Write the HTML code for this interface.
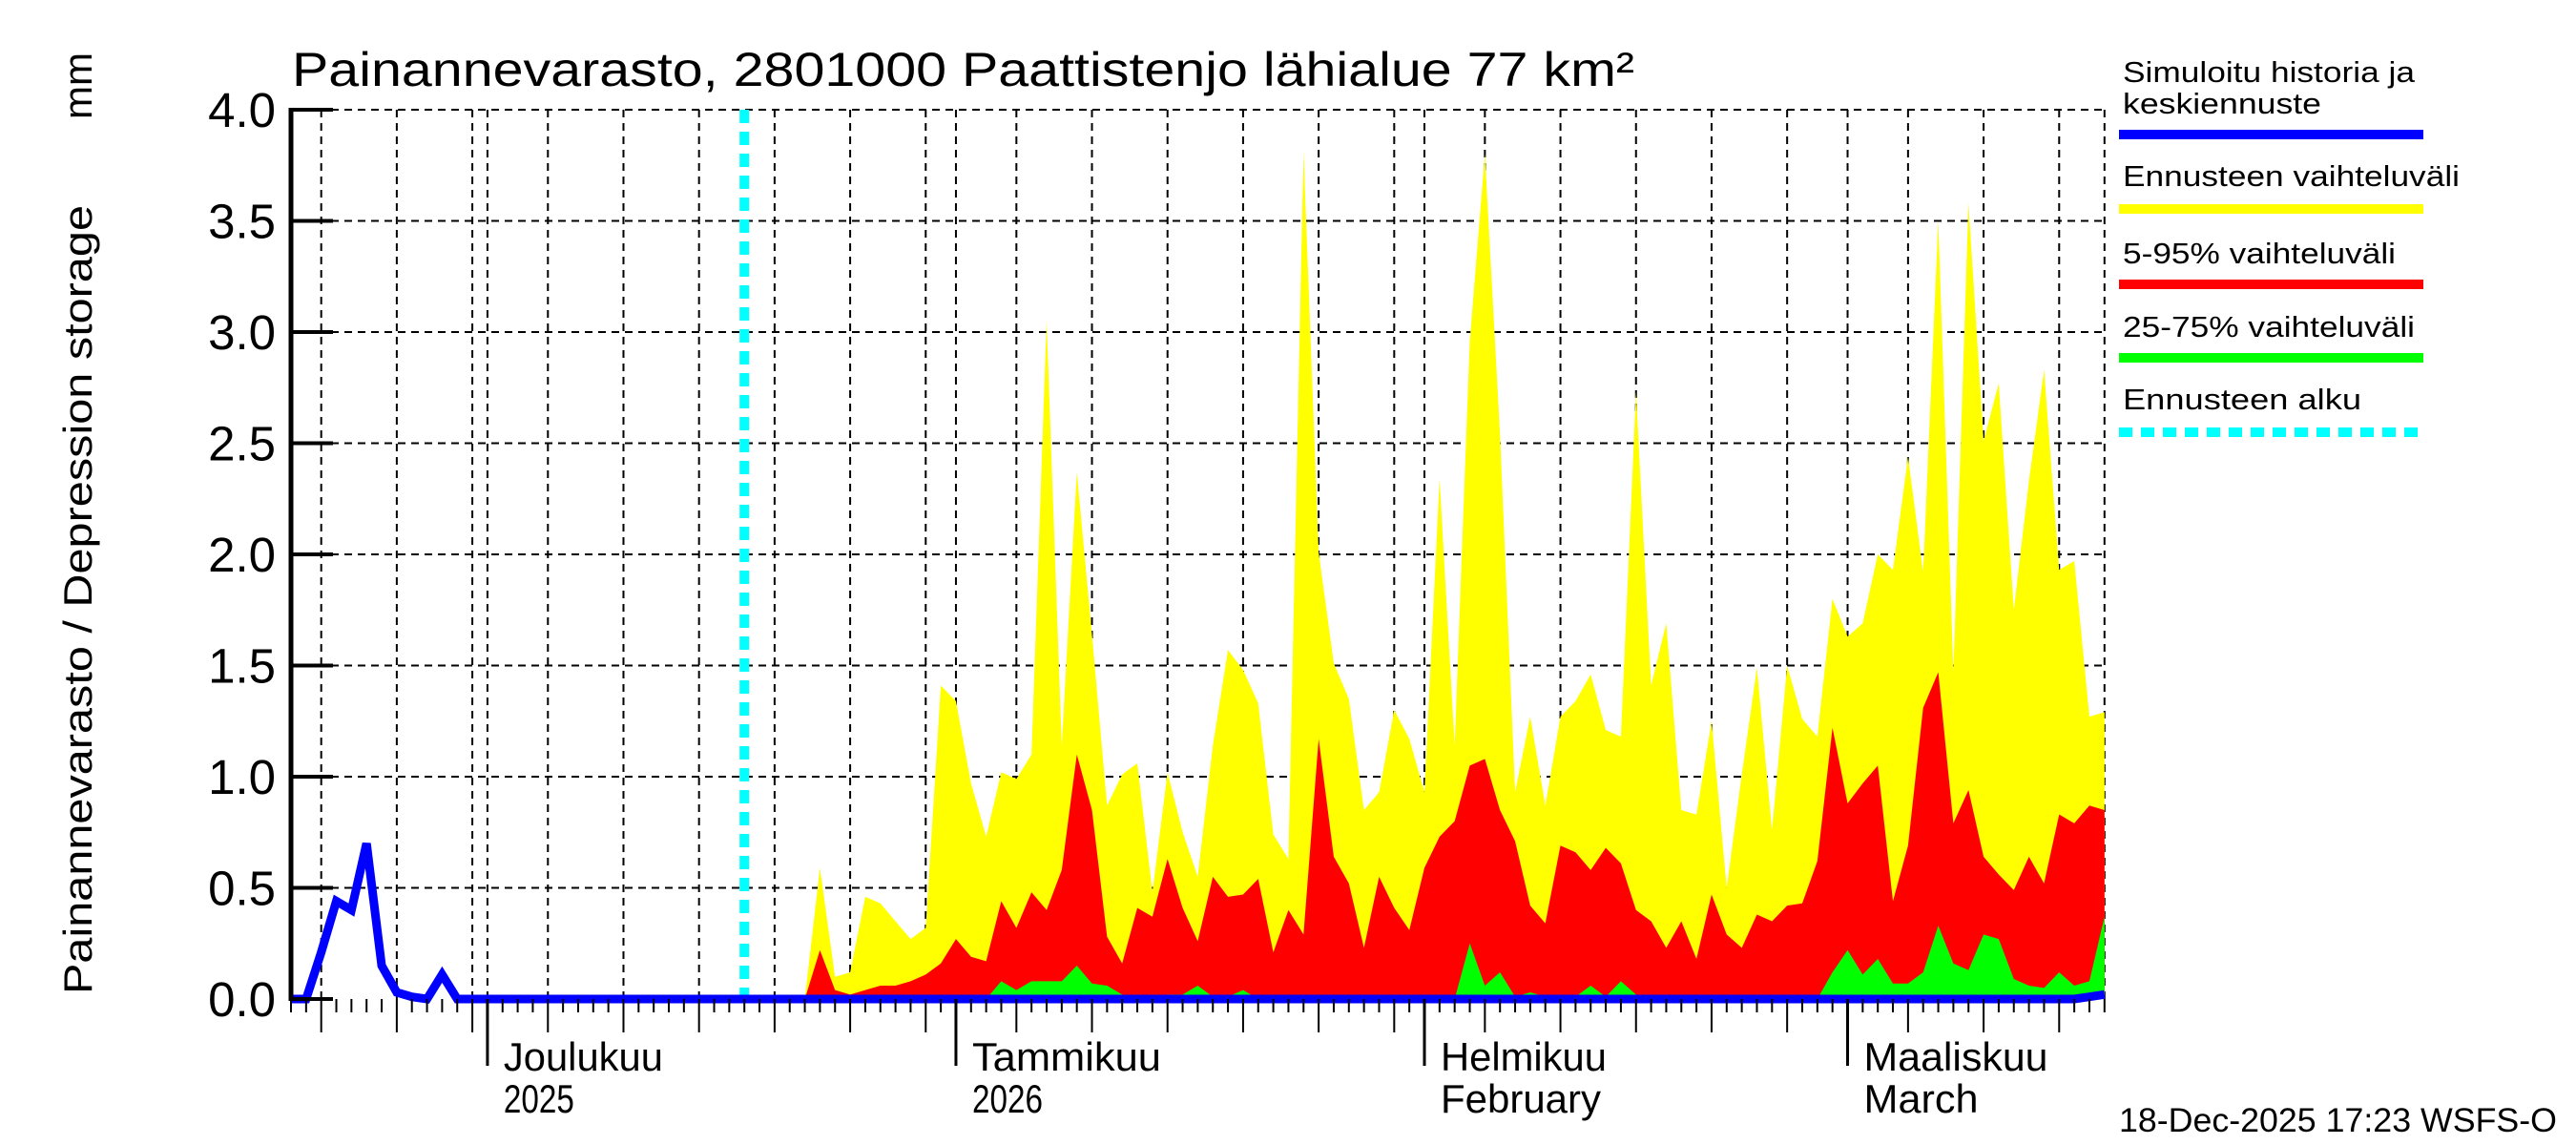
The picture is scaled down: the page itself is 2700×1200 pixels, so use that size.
<!DOCTYPE html>
<html><head><meta charset="utf-8"><title>Painannevarasto</title>
<style>html,body{margin:0;padding:0;background:#fff}svg{display:block}text{font-family:"Liberation Sans",sans-serif;fill:#000}</style>
</head><body>
<svg id="chart" width="2700" height="1200" viewBox="0 0 2700 1200" xmlns="http://www.w3.org/2000/svg">
<rect x="0" y="0" width="2700" height="1200" fill="#fff"/>
<g id="grid"></g>
<g id="bands"></g>
<g id="lines"></g>
<g id="axes"></g>
<text x="306" y="90" font-size="50" textLength="1407" lengthAdjust="spacingAndGlyphs">Painannevarasto, 2801000 Paattistenjo lähialue 77 km²</text>
<text transform="translate(96,1042) rotate(-90)" font-size="42" textLength="827" lengthAdjust="spacingAndGlyphs">Painannevarasto / Depression storage</text>
<text transform="translate(96,125) rotate(-90)" font-size="42">mm</text>
<g id="legend">
<text x="2225" y="86" font-size="31" textLength="306" lengthAdjust="spacingAndGlyphs">Simuloitu historia ja</text>
<text x="2225" y="119" font-size="31" textLength="208" lengthAdjust="spacingAndGlyphs">keskiennuste</text>
<line x1="2221" y1="141" x2="2540" y2="141" stroke="#0000ff" stroke-width="10"/>
<text x="2225" y="195" font-size="31" textLength="353" lengthAdjust="spacingAndGlyphs">Ennusteen vaihteluväli</text>
<line x1="2221" y1="219" x2="2540" y2="219" stroke="#ffff00" stroke-width="10"/>
<text x="2225" y="276" font-size="31" textLength="286" lengthAdjust="spacingAndGlyphs">5-95% vaihteluväli</text>
<line x1="2221" y1="298" x2="2540" y2="298" stroke="#ff0000" stroke-width="10"/>
<text x="2225" y="353" font-size="31" textLength="306" lengthAdjust="spacingAndGlyphs">25-75% vaihteluväli</text>
<line x1="2221" y1="375" x2="2540" y2="375" stroke="#00ff00" stroke-width="10"/>
<text x="2225" y="429" font-size="31" textLength="250" lengthAdjust="spacingAndGlyphs">Ennusteen alku</text>
<line x1="2221" y1="453" x2="2540" y2="453" stroke="#00ffff" stroke-width="10" stroke-dasharray="14,9"/>
</g>
<text x="2221" y="1186" font-size="35" textLength="459" lengthAdjust="spacingAndGlyphs">18-Dec-2025 17:23 WSFS-O</text>
</svg>
<script>
const yTicks = [0.0, 0.5, 1.0, 1.5, 2.0, 2.5, 3.0, 3.5, 4.0];
const yTickLabels = ["0.0","0.5","1.0","1.5","2.0","2.5","3.0","3.5","4.0"];
const months = [
 {day:13, fi:"Joulukuu", en:"2025", w1:167, w2:74},
 {day:44, fi:"Tammikuu", en:"2026", w1:198, w2:74},
 {day:75, fi:"Helmikuu", en:"February", w1:174, w2:168},
 {day:103, fi:"Maaliskuu", en:"March", w1:193, w2:120}
];
const forecastStartDay = 30;
const bandStartDay = 34;
// median / history line (daily, from Nov 18)
const blueSeries = [0,0,0.21,0.44,0.40,0.70,0.15,0.03,0.01,0,0.11,0,0,0,0,0,0,0,0,0,0,0,0,0,0,0,0,0,0,0,0,
 0,0,0,0,0,0,0,0,0,0,0,0,0,0,0,0,0,0,0,0,0,0,0,0,0,0,0,0,0,0,0,0,0,0,0,0,0,0,0,0,0,0,0,0,0,0,0,0,0,0,0,0,0,0,0,0,0,0,0,
 0,0,0,0,0,0,0,0,0,0,0,0,0,0,0,0,0,0,0,0,0,0,0,0,0,0,0,0,0,0.01,0.02];
// bands, days 34..120
const yellowMax = [0,0.59,0.10,0.12,0.46,0.43,0.35,0.27,0.32,1.41,1.34,0.97,0.73,1.02,0.99,1.10,3.05,1.14,2.37,1.64,0.87,1.01,1.06,0.48,1.02,0.75,0.55,1.14,1.57,1.48,
 1.33,0.74,0.63,3.81,2.01,1.51,1.35,0.85,0.93,1.30,1.17,0.93,2.34,1.14,2.96,3.80,2.54,0.93,1.27,0.87,1.27,1.34,1.46,1.21,1.18,2.73,1.41,1.69,0.85,
 0.83,1.25,0.50,1.01,1.49,0.76,1.50,1.26,1.18,1.80,1.63,1.69,2.00,1.93,2.44,1.92,3.50,1.47,3.58,2.51,2.77,1.75,2.33,2.83,1.93,1.97,1.27,1.29];
const red95 = [0,0.22,0.04,0.02,0.04,0.06,0.06,0.08,0.11,0.16,0.27,0.19,0.17,0.44,0.32,0.48,0.40,0.58,1.10,0.85,0.28,0.16,0.41,0.37,0.63,0.41,0.26,0.55,0.46,0.47,
 0.54,0.21,0.40,0.29,1.17,0.64,0.52,0.23,0.55,0.41,0.31,0.59,0.73,0.80,1.05,1.08,0.85,0.71,0.42,0.34,0.69,0.66,0.58,0.68,0.61,0.40,0.35,0.23,0.35,
 0.18,0.47,0.29,0.23,0.38,0.35,0.42,0.43,0.62,1.22,0.88,0.97,1.05,0.44,0.69,1.31,1.47,0.79,0.94,0.64,0.56,0.49,0.64,0.52,0.83,0.79,0.87,0.85];
const green75 = [0,0,0,0,0,0,0,0,0,0,0,0,0,0.08,0.04,0.08,0.08,0.08,0.15,0.07,0.06,0.02,0.01,0.01,0.02,0.02,0.06,0.01,0.01,0.04,
 0,0,0,0,0,0,0,0,0,0,0,0,0,0,0.25,0.06,0.12,0.01,0.03,0.01,0,0.01,0.06,0.01,0.08,0.02,0,0,0,
 0,0,0,0,0,0,0,0,0,0.12,0.22,0.11,0.18,0.07,0.07,0.12,0.33,0.16,0.13,0.29,0.27,0.09,0.06,0.05,0.12,0.06,0.08,0.37];

const X0 = 305, PX_DAY = 15.84, Y0 = 1047, PX_UNIT = 233;
const xs = d => X0 + d * PX_DAY;
const ys = v => Y0 - v * PX_UNIT;
const NS = "http://www.w3.org/2000/svg";
function mk(tag, attrs, parent){const e=document.createElementNS(NS,tag);for(const k in attrs)e.setAttribute(k,attrs[k]);parent.appendChild(e);return e;}
const grid=document.getElementById('grid'), bands=document.getElementById('bands'), lines=document.getElementById('lines'), axes=document.getElementById('axes');
const R = xs(120);
yTicks.forEach((v,i)=>{ if(v===0) return;
 const g=mk('line',{x1:X0,y1:ys(v),x2:R,y2:ys(v),stroke:'#000','stroke-width':2,'stroke-dasharray':'8,6'},grid);
 
 
});
const start = Date.UTC(2025,10,18);
for(let d=0; d<=120; d++){
 const dt=new Date(start+d*86400000); const dom=dt.getUTCDate();
 const x=xs(d);
 const isMonth = dom===1, isMid = dom%5===0;
 if(isMonth||isMid){
  const g=mk('line',{x1:x,y1:Y0,x2:x,y2:ys(4),stroke:'#000','stroke-width':2,'stroke-dasharray':'8,6'},grid);
  
  
 }
 const len = isMonth?70:(isMid?35:14);
 const t=mk('line',{x1:x,y1:Y0,x2:x,y2:Y0+len,stroke:'#000','stroke-width':isMonth?3:2},axes);
 
 
}
const rb=mk('line',{x1:R,y1:ys(4),x2:R,y2:Y0,stroke:'#000','stroke-width':2,'stroke-dasharray':'8,6'},grid);


function area(arr,color,name){
 let pts=`${xs(bandStartDay)},${ys(0)} `;
 arr.forEach((v,i)=>{pts+=`${xs(bandStartDay+i)},${ys(v)} `;});
 pts+=`${xs(bandStartDay+arr.length-1)},${ys(0)}`;
 const p=mk('polygon',{points:pts,fill:color},bands);
 
 
}
area(yellowMax,'#ffff00','band-min-max');
area(red95,'#ff0000','band-5-95');
area(green75,'#00ff00','band-25-75');
const fs=mk('line',{x1:xs(forecastStartDay),y1:ys(4),x2:xs(forecastStartDay),y2:Y0,stroke:'#00ffff','stroke-width':10,'stroke-dasharray':'14,9'},lines);


const bp=mk('polyline',{points:blueSeries.map((v,i)=>`${xs(i)},${ys(v)}`).join(' '),fill:'none',stroke:'#0000ff','stroke-width':9,'stroke-linejoin':'miter'},lines);


const la=mk('line',{x1:X0,y1:ys(4)-2,x2:X0,y2:Y0+2,stroke:'#000','stroke-width':5},axes);


yTicks.forEach((v,i)=>{
 const t=mk('line',{x1:X0,y1:ys(v),x2:X0+44,y2:ys(v),stroke:'#000','stroke-width':4},axes);
 
 
 const tx=mk('text',{x:289,y:ys(v)+18,'font-size':51,'text-anchor':'end'},axes);
 tx.textContent=yTickLabels[i];
 
 
});
months.forEach(m=>{
 const x=xs(m.day)+17;
 const a=mk('text',{x:x,y:1122,'font-size':42,textLength:m.w1,lengthAdjust:'spacingAndGlyphs'},axes);
 a.textContent=m.fi;
 
 
 const b=mk('text',{x:x,y:1166,'font-size':42,textLength:m.w2,lengthAdjust:'spacingAndGlyphs'},axes);
 b.textContent=m.en;
 
 
});
</script>
</body></html>
